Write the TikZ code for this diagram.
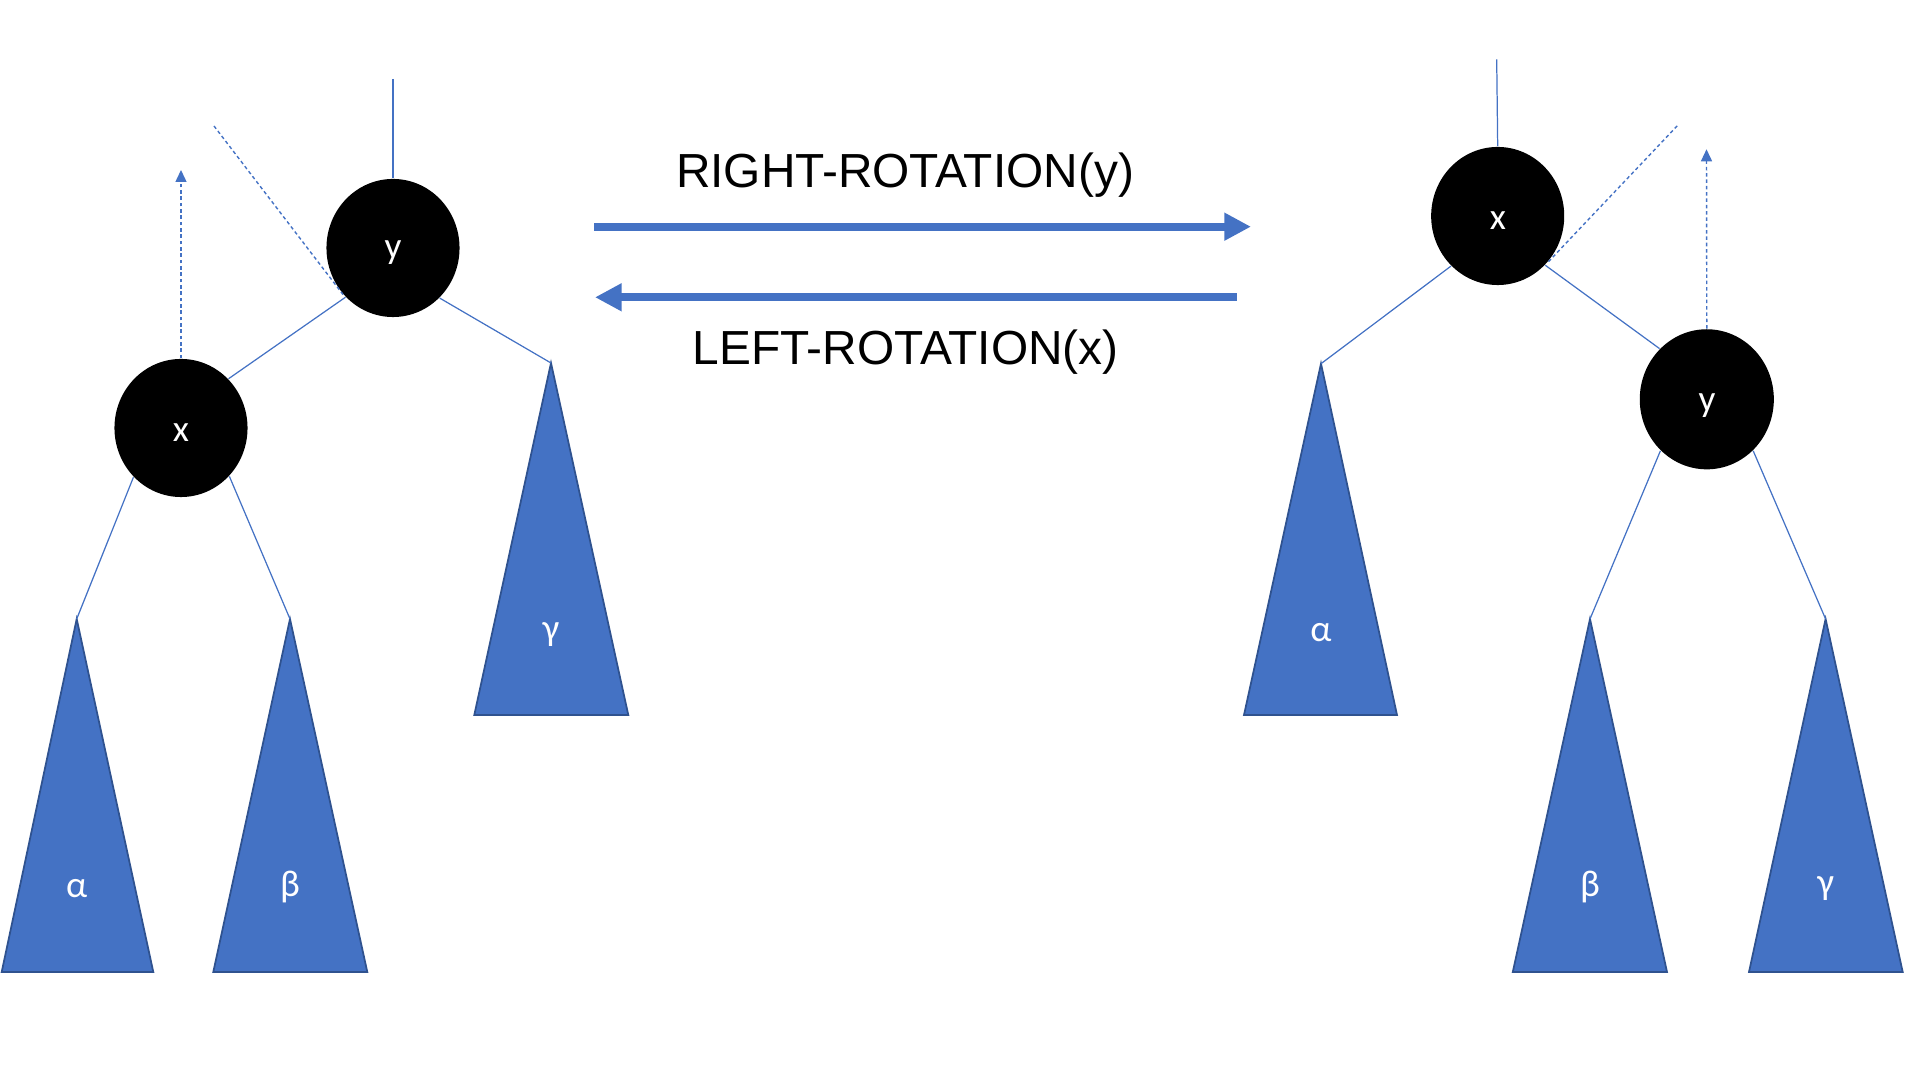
\documentclass[tikz,border=0pt]{standalone}
\usepackage{fontspec}
\setmainfont{Liberation Sans}
\newfontfamily\calib{Carlito}
\usetikzlibrary{shapes.geometric,arrows.meta}
\definecolor{tblue}{HTML}{4472C4}
\definecolor{tdark}{HTML}{2F528F}
\begin{document}
\begin{tikzpicture}[x=0.01cm,y=-0.01cm,
  treenode/.style={ellipse,fill=black,draw=none,inner sep=0pt,minimum width=1.33cm,minimum height=1.38cm},
  nodelabel/.style={text=white,font=\calib\fontsize{10.6}{12}\selectfont,anchor=base,inner sep=0pt},
  edgeline/.style={draw=tblue,line width=0.35pt},
  dashedge/.style={draw=tblue,line width=0.4pt,dash pattern=on 1pt off 0.8pt},
  subtree/.style={fill=tblue,draw=tdark,line width=0.5pt,line join=miter},
  bigarrow/.style={draw=tblue,line width=0.083cm,-{Triangle[length=0.267cm,width=0.263cm]}},
  uparrow/.style={dashedge,-{Triangle[length=0.12cm,width=0.11cm]}},
  titletext/.style={font=\fontsize{13.6}{16}\selectfont,anchor=base,inner sep=0pt}]
\useasboundingbox (0,0) rectangle (1920,1080);

% ---------- left tree ----------
\coordinate (lat) at (76.7,619);
\coordinate (lbt) at (290,619);
\coordinate (lgt) at (551,363);
\coordinate (lytop) at (393,79);
\coordinate (ldash) at (214,126);
\coordinate (lup) at (181,170);

\draw[subtree] (lat) -- (1.7,972) -- (153.3,972) -- cycle;
\draw[subtree] (lbt) -- (213.3,972) -- (367.3,972) -- cycle;
\draw[subtree] (lgt) -- (474.3,715) -- (628.3,715) -- cycle;

\node[treenode] (ly) at (393,248) {};
\node[treenode] (lx) at (181,428) {};

\draw[edgeline] (lytop) -- (ly.north);
\draw[dashedge] (ldash) -- (ly.224);
\draw[edgeline] (ly.226) -- (lx.46);
\draw[edgeline] (ly.313) -- (lgt);
\draw[edgeline] (lx.226) -- (lat);
\draw[edgeline] (lx.315) -- (lbt);
\draw[uparrow] (lx.north) -- (lup);

\node[nodelabel] (lyl) at (393,259) {y};
\node[nodelabel] (lxl) at (181,442) {x};
\node[nodelabel] (lal) at (76.7,898) {α};
\node[nodelabel] (lbl) at (290,897) {β};
\node[nodelabel] (lgl) at (551,641) {γ};

% ---------- arrows ----------
\coordinate (ra1) at (594.3,226.7);
\coordinate (ra2) at (1251,226.7);
\coordinate (la1) at (1236.7,297.3);
\coordinate (la2) at (595,297.3);
\draw[bigarrow] (ra1) -- (ra2);
\draw[bigarrow] (la1) -- (la2);
\node[titletext] (rt) at (905,187.3) {RIGHT-ROTATION(y)};
\node[titletext] (lt) at (905.5,365) {LEFT-ROTATION(x)};

% ---------- right tree ----------
\coordinate (rat) at (1321,363.7);
\coordinate (rbt) at (1590,619);
\coordinate (rgt) at (1825.6,619);
\coordinate (rxtop) at (1496.7,59.3);
\coordinate (rdash) at (1678,125);
\coordinate (rup) at (1706.5,149.3);

\draw[subtree] (rat) -- (1244,715) -- (1397,715) -- cycle;
\draw[subtree] (rbt) -- (1512.8,972) -- (1667,972) -- cycle;
\draw[subtree] (rgt) -- (1749,972) -- (1902.7,972) -- cycle;

\node[treenode] (rx) at (1497.7,216) {};
\node[treenode,minimum height=1.4cm,minimum width=1.34cm] (ry) at (1706.8,399.3) {};

\draw[edgeline] (rxtop) -- (rx.north);
\draw[dashedge] (rx.318) -- (rdash);
\draw[edgeline] (rx.227) -- (rat);
\draw[edgeline] (rx.314) -- (ry.133);
\draw[edgeline] (ry.228) -- (rbt);
\draw[edgeline] (ry.312) -- (rgt);
\draw[uparrow] (ry.north) -- (rup);

\node[nodelabel] (rxl) at (1498,230) {x};
\node[nodelabel] (ryl) at (1707,412) {y};
\node[nodelabel] (ral) at (1321,642) {α};
\node[nodelabel] (rbl) at (1590,897) {β};
\node[nodelabel] (rgl) at (1825.6,895) {γ};
\end{tikzpicture}
\end{document}
